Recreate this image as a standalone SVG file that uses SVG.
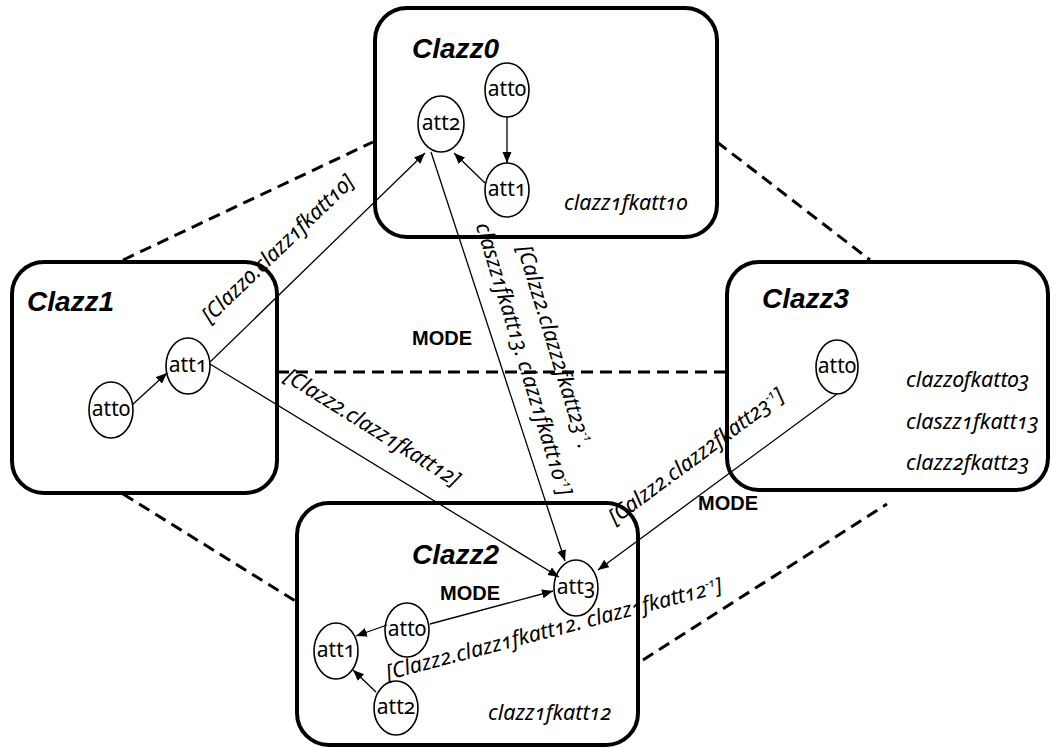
<svg xmlns="http://www.w3.org/2000/svg" width="1060" height="749" viewBox="0 0 1060 749">
<defs>
<marker id="arr" markerUnits="userSpaceOnUse" markerWidth="12" markerHeight="10" refX="11" refY="4.5" orient="auto">
<path d="M0,0 L11,4.5 L0,9 z" fill="#000"/>
</marker>
<style>
.box{fill:#fff;stroke:#000;stroke-width:4}
.title{font-family:"Liberation Sans",Arial,sans-serif;font-weight:bold;font-style:italic;font-size:28px;fill:#000}
.att{fill:#fff;stroke:#000;stroke-width:1.6}
.attt{font-family:"Noto Sans","Open Sans",sans-serif;font-size:21px;text-anchor:middle;fill:#000;font-variant-numeric:oldstyle-nums}
.lab{font-family:"Noto Sans","Open Sans",sans-serif;font-style:italic;font-size:21.5px;fill:#000;font-variant-numeric:oldstyle-nums}
.mode{font-family:"Liberation Sans",Arial,sans-serif;font-weight:bold;font-size:20px;fill:#000}
.dash{stroke:#000;stroke-width:3;stroke-dasharray:12 7;fill:none}
.edge{stroke:#000;stroke-width:1.3;fill:none;marker-end:url(#arr)}
.sup{font-size:12px}
</style>
</defs>
<rect width="1060" height="749" fill="#fff"/>

<g id="dashed-links">
<line class="dash" x1="123" y1="260" x2="373" y2="142"/>
<line class="dash" x1="717" y1="142" x2="870" y2="260"/>
<line class="dash" x1="277" y1="372" x2="727" y2="372"/>
<line class="dash" x1="123" y1="494" x2="297" y2="602"/>
<line class="dash" x1="643" y1="660" x2="887" y2="504"/>
</g>

<g id="Clazz0">
<rect class="box" x="375" y="8" width="342" height="229" rx="32"/>
<text class="title" x="412" y="58">Clazz0</text>
<ellipse class="att" cx="507" cy="90" rx="22" ry="27"/>
<text class="attt" x="507" y="96">att0</text>
<ellipse class="att" cx="441" cy="124" rx="23" ry="28"/>
<text class="attt" x="441" y="130">att2</text>
<ellipse class="att" cx="507" cy="190" rx="22" ry="27"/>
<text class="attt" x="507" y="196">att1</text>
<text class="lab" x="564" y="210">clazz1fkatt10</text>
</g>

<g id="Clazz1">
<rect class="box" x="12" y="262" width="265" height="231" rx="32"/>
<text class="title" x="27" y="311">Clazz1</text>
<ellipse class="att" cx="188" cy="366" rx="22" ry="28"/>
<text class="attt" x="188" y="372">att1</text>
<ellipse class="att" cx="111" cy="410" rx="22" ry="28"/>
<text class="attt" x="111" y="416">att0</text>
</g>

<g id="Clazz3">
<rect class="box" x="727" y="262" width="321" height="228" rx="32"/>
<text class="title" x="762" y="308">Clazz3</text>
<ellipse class="att" cx="837" cy="367" rx="21" ry="27"/>
<text class="attt" x="837" y="373">att0</text>
<text class="lab" x="906" y="387">clazz0fkatt03</text>
<text class="lab" x="906" y="429">claszz1fkatt13</text>
<text class="lab" x="906" y="470">clazz2fkatt23</text>
</g>

<g id="Clazz2">
<rect class="box" x="297" y="503" width="341" height="242" rx="32"/>
<text class="title" x="412" y="564">Clazz2</text>
<ellipse class="att" cx="576" cy="588" rx="22" ry="28"/>
<text class="attt" x="576" y="594">att3</text>
<ellipse class="att" cx="407" cy="630" rx="22" ry="27"/>
<text class="attt" x="407" y="636">att0</text>
<ellipse class="att" cx="336" cy="651" rx="22" ry="28"/>
<text class="attt" x="336" y="657">att1</text>
<ellipse class="att" cx="396" cy="708" rx="22" ry="27"/>
<text class="attt" x="396" y="714">att2</text>
<text class="lab" x="488" y="720">clazz1fkatt12</text>
</g>

<g id="connectors">
<line class="edge" x1="507" y1="117" x2="507" y2="163"/>
<line class="edge" x1="485" y1="183" x2="454" y2="153"/>
<line class="edge" x1="132" y1="405" x2="167" y2="373"/>
<line class="edge" x1="210" y1="362" x2="425" y2="153"/>
<line class="edge" x1="431" y1="152" x2="565" y2="561"/>
<line class="edge" x1="210" y1="364" x2="559" y2="577"/>
<line class="edge" x1="837" y1="394" x2="598" y2="570"/>
<line class="edge" x1="430" y1="624" x2="553" y2="591"/>
<line class="edge" x1="387" y1="625" x2="356" y2="636"/>
<line class="edge" x1="376" y1="692" x2="353" y2="670"/>
</g>

<g id="edge-labels">
<text class="lab" transform="translate(210,324) rotate(-44)">[Clazz0.clazz1fkatt10]</text>
<text class="lab" transform="translate(283,380) rotate(32)">[Clazz2.clazz1fkatt12]</text>
<text class="lab" text-anchor="middle" transform="translate(548,349) rotate(73)">[Calzz2.clazz2fkatt23<tspan class="sup" dy="-8">-1</tspan><tspan dy="8">.</tspan></text>
<text class="lab" text-anchor="middle" transform="translate(517,361) rotate(73)">claszz1fkatt13. clazz1fkatt10<tspan class="sup" dy="-8">-1</tspan><tspan dy="8">]</tspan></text>
<text class="lab" transform="translate(615,525) rotate(-36.5)">[Calzz2.clazz2fkatt23<tspan class="sup" dy="-8">-1</tspan><tspan dy="8">]</tspan></text>
<text class="lab" transform="translate(388,680) rotate(-14.7)">[Clazz2.clazz1fkatt12. clazz1fkatt12<tspan class="sup" dy="-8">-1</tspan><tspan dy="8">]</tspan></text>
<text class="mode" x="412" y="345">MODE</text>
<text class="mode" x="440" y="600">MODE</text>
<text class="mode" x="698" y="510">MODE</text>
</g>
</svg>
